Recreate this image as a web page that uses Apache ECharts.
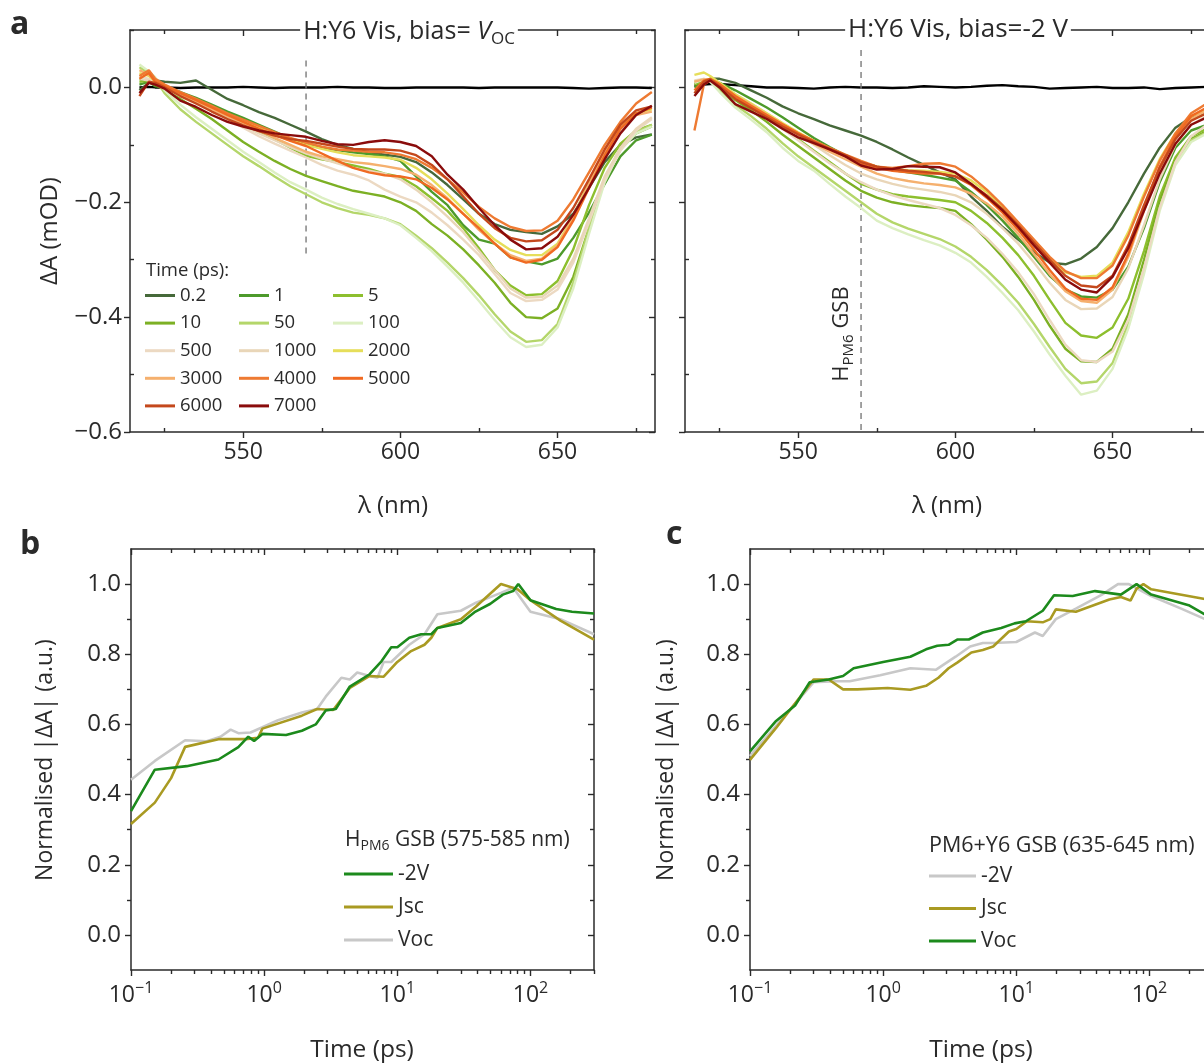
<!DOCTYPE html>
<html><head><meta charset="utf-8">
<script src="https://cdn.jsdelivr.net/npm/echarts@6/dist/echarts.min.js"></script>
<style>html,body{margin:0;padding:0;overflow:hidden;background:#fff}#main{width:1220px;height:1064px}</style>
</head><body><div id="main"></div>
<script>
// ---------------- DATA ----------------
const wavelengths = [517,520,522,525,530,535,540,545,550,555,560,565,570,575,580,585,590,595,600,605,610,615,620,625,630,635,640,645,650,655,660,665,670,675,680];
const timeLabels = ['0.2','1','5','10','50','100','500','1000','2000','3000','4000','5000','6000','7000'];
const timeColors = ['#46693a','#4d9a2b','#8dbf2e','#7cb024','#b4d66a','#dcefc2','#ecd9c2','#e9d6b8','#e6de5a','#f5b06e','#ee7a32','#f06a22','#c4481c','#8a0c0c'];

// Panel a: bias = Voc  (ΔA, mOD)
const vocRef   = [0.000,0.001,0.000,0.000,-0.001,0.000,0.000,0.000,0.001,0.000,-0.001,0.000,0.000,0.000,0.001,0.000,0.000,-0.001,-0.001,0.000,0.000,0.000,0.000,-0.001,0.000,0.000,0.000,0.000,0.000,-0.001,-0.002,-0.001,0.000,0.000,-0.001];
const vocT0p2  = [-0.005,0.008,0.012,0.010,0.008,0.012,-0.004,-0.020,-0.031,-0.043,-0.053,-0.065,-0.077,-0.090,-0.100,-0.107,-0.113,-0.117,-0.121,-0.130,-0.148,-0.170,-0.195,-0.220,-0.238,-0.248,-0.252,-0.255,-0.242,-0.220,-0.175,-0.130,-0.100,-0.087,-0.082];
const vocT1    = [0.005,0.010,0.002,0.000,-0.008,-0.018,-0.030,-0.042,-0.053,-0.065,-0.077,-0.089,-0.100,-0.105,-0.109,-0.113,-0.116,-0.120,-0.128,-0.155,-0.182,-0.205,-0.240,-0.265,-0.272,-0.296,-0.303,-0.308,-0.298,-0.262,-0.218,-0.168,-0.120,-0.092,-0.082];
const vocT5    = [0.010,0.012,0.005,0.000,-0.010,-0.022,-0.036,-0.050,-0.063,-0.077,-0.090,-0.105,-0.119,-0.125,-0.130,-0.136,-0.142,-0.150,-0.156,-0.172,-0.193,-0.215,-0.245,-0.280,-0.318,-0.345,-0.362,-0.360,-0.337,-0.282,-0.205,-0.140,-0.098,-0.075,-0.065];
const vocT10   = [0.015,0.010,0.005,-0.005,-0.020,-0.037,-0.055,-0.075,-0.095,-0.112,-0.128,-0.142,-0.154,-0.163,-0.172,-0.180,-0.185,-0.190,-0.200,-0.215,-0.238,-0.258,-0.282,-0.310,-0.340,-0.375,-0.400,-0.402,-0.385,-0.330,-0.245,-0.160,-0.108,-0.080,-0.068];
const vocT50   = [0.035,0.025,0.015,-0.010,-0.038,-0.060,-0.080,-0.100,-0.120,-0.137,-0.155,-0.172,-0.186,-0.200,-0.210,-0.218,-0.222,-0.228,-0.238,-0.258,-0.280,-0.305,-0.332,-0.362,-0.395,-0.425,-0.443,-0.440,-0.412,-0.340,-0.245,-0.160,-0.105,-0.078,-0.065];
const vocT100  = [0.040,0.028,0.018,-0.005,-0.030,-0.052,-0.072,-0.092,-0.112,-0.130,-0.148,-0.165,-0.178,-0.192,-0.203,-0.212,-0.220,-0.228,-0.240,-0.262,-0.285,-0.312,-0.340,-0.372,-0.405,-0.435,-0.452,-0.448,-0.418,-0.350,-0.255,-0.165,-0.108,-0.080,-0.068];
const vocT500  = [0.020,0.015,0.008,0.000,-0.012,-0.025,-0.040,-0.055,-0.070,-0.085,-0.098,-0.110,-0.122,-0.135,-0.145,-0.152,-0.162,-0.178,-0.190,-0.200,-0.218,-0.240,-0.265,-0.292,-0.325,-0.358,-0.372,-0.370,-0.352,-0.305,-0.235,-0.160,-0.110,-0.075,-0.055];
const vocT1000 = [0.015,0.012,0.006,-0.002,-0.012,-0.024,-0.038,-0.052,-0.066,-0.080,-0.092,-0.104,-0.115,-0.124,-0.132,-0.140,-0.145,-0.150,-0.160,-0.178,-0.200,-0.225,-0.252,-0.285,-0.318,-0.350,-0.366,-0.365,-0.345,-0.298,-0.228,-0.155,-0.105,-0.072,-0.052];
const vocT2000 = [0.025,0.020,0.010,0.002,-0.010,-0.022,-0.035,-0.048,-0.058,-0.070,-0.082,-0.092,-0.100,-0.107,-0.113,-0.118,-0.120,-0.122,-0.126,-0.140,-0.160,-0.185,-0.212,-0.240,-0.265,-0.283,-0.292,-0.292,-0.272,-0.225,-0.165,-0.110,-0.068,-0.045,-0.038];
const vocT3000 = [0.030,0.022,0.012,0.000,-0.012,-0.025,-0.038,-0.050,-0.062,-0.075,-0.088,-0.100,-0.112,-0.120,-0.125,-0.130,-0.133,-0.137,-0.142,-0.152,-0.170,-0.193,-0.220,-0.248,-0.272,-0.292,-0.302,-0.298,-0.275,-0.228,-0.168,-0.112,-0.070,-0.048,-0.042];
const vocT4000 = [0.020,0.030,0.015,0.005,-0.008,-0.020,-0.032,-0.045,-0.056,-0.067,-0.078,-0.088,-0.096,-0.103,-0.108,-0.110,-0.112,-0.113,-0.117,-0.125,-0.140,-0.160,-0.183,-0.208,-0.228,-0.243,-0.250,-0.249,-0.232,-0.195,-0.148,-0.100,-0.060,-0.028,-0.008];
const vocT5000 = [0.015,0.025,0.010,0.002,-0.010,-0.022,-0.035,-0.048,-0.060,-0.072,-0.083,-0.093,-0.102,-0.115,-0.128,-0.140,-0.148,-0.153,-0.155,-0.160,-0.175,-0.195,-0.220,-0.245,-0.272,-0.296,-0.305,-0.300,-0.278,-0.232,-0.175,-0.118,-0.072,-0.045,-0.035];
const vocT6000 = [-0.015,0.010,0.008,0.000,-0.015,-0.028,-0.042,-0.055,-0.066,-0.076,-0.084,-0.090,-0.093,-0.098,-0.103,-0.107,-0.108,-0.108,-0.110,-0.118,-0.135,-0.160,-0.190,-0.220,-0.245,-0.262,-0.268,-0.266,-0.248,-0.210,-0.160,-0.108,-0.065,-0.040,-0.033];
const vocT7000 = [-0.010,0.008,0.005,-0.002,-0.023,-0.034,-0.048,-0.060,-0.068,-0.075,-0.080,-0.083,-0.086,-0.093,-0.099,-0.100,-0.095,-0.092,-0.095,-0.102,-0.120,-0.152,-0.178,-0.210,-0.240,-0.265,-0.282,-0.280,-0.260,-0.222,-0.175,-0.125,-0.080,-0.048,-0.032];

// Panel a (right): bias = -2 V
const m2Ref   = [0.003,0.005,0.006,0.006,0.004,0.002,0.000,0.000,-0.001,-0.002,0.000,0.001,0.000,0.000,-0.001,0.000,0.002,0.001,0.000,0.001,0.003,0.004,0.002,0.001,-0.002,-0.001,0.000,0.001,-0.001,-0.001,0.000,-0.003,-0.001,0.000,0.001];
const m2T0p2  = [0.008,0.012,0.015,0.015,0.008,-0.005,-0.018,-0.033,-0.045,-0.055,-0.066,-0.075,-0.084,-0.095,-0.108,-0.122,-0.135,-0.148,-0.160,-0.190,-0.215,-0.243,-0.265,-0.287,-0.305,-0.308,-0.298,-0.278,-0.245,-0.200,-0.150,-0.105,-0.070,-0.052,-0.046];
const m2T1    = [0.000,0.010,0.012,0.008,-0.005,-0.020,-0.035,-0.052,-0.070,-0.088,-0.104,-0.118,-0.130,-0.138,-0.144,-0.148,-0.152,-0.157,-0.162,-0.182,-0.205,-0.232,-0.262,-0.295,-0.328,-0.352,-0.364,-0.366,-0.352,-0.312,-0.245,-0.165,-0.105,-0.075,-0.065];
const m2T5    = [0.005,0.012,0.012,0.004,-0.015,-0.032,-0.050,-0.070,-0.090,-0.110,-0.130,-0.150,-0.168,-0.178,-0.186,-0.190,-0.193,-0.196,-0.200,-0.215,-0.236,-0.262,-0.292,-0.328,-0.370,-0.410,-0.432,-0.436,-0.418,-0.368,-0.285,-0.190,-0.122,-0.085,-0.072];
const m2T10   = [0.008,0.012,0.012,0.000,-0.022,-0.040,-0.060,-0.082,-0.102,-0.122,-0.142,-0.162,-0.180,-0.192,-0.200,-0.205,-0.208,-0.210,-0.215,-0.238,-0.265,-0.295,-0.330,-0.370,-0.415,-0.455,-0.477,-0.478,-0.455,-0.395,-0.300,-0.198,-0.128,-0.090,-0.076];
const m2T50   = [0.010,0.014,0.012,-0.005,-0.030,-0.050,-0.072,-0.097,-0.120,-0.140,-0.160,-0.180,-0.200,-0.220,-0.235,-0.246,-0.255,-0.264,-0.277,-0.295,-0.318,-0.345,-0.375,-0.412,-0.452,-0.490,-0.515,-0.512,-0.480,-0.412,-0.318,-0.210,-0.132,-0.092,-0.078];
const m2T100  = [0.008,0.014,0.010,-0.008,-0.035,-0.056,-0.078,-0.105,-0.128,-0.145,-0.168,-0.190,-0.210,-0.232,-0.245,-0.256,-0.266,-0.275,-0.288,-0.305,-0.330,-0.358,-0.388,-0.425,-0.465,-0.502,-0.535,-0.528,-0.490,-0.420,-0.325,-0.215,-0.135,-0.095,-0.080];
const m2T500  = [0.012,0.015,0.012,0.002,-0.018,-0.035,-0.052,-0.072,-0.092,-0.112,-0.132,-0.150,-0.165,-0.178,-0.188,-0.196,-0.203,-0.210,-0.222,-0.240,-0.262,-0.290,-0.322,-0.360,-0.405,-0.448,-0.475,-0.478,-0.460,-0.405,-0.315,-0.210,-0.130,-0.085,-0.065];
const m2T1000 = [0.010,0.015,0.012,0.004,-0.012,-0.028,-0.045,-0.063,-0.082,-0.100,-0.118,-0.135,-0.150,-0.160,-0.168,-0.174,-0.178,-0.182,-0.188,-0.200,-0.220,-0.245,-0.272,-0.305,-0.340,-0.370,-0.386,-0.385,-0.365,-0.315,-0.240,-0.160,-0.100,-0.065,-0.050];
const m2T2000 = [0.022,0.026,0.020,0.008,-0.012,-0.028,-0.045,-0.062,-0.078,-0.093,-0.106,-0.118,-0.130,-0.138,-0.142,-0.144,-0.145,-0.147,-0.150,-0.162,-0.182,-0.208,-0.238,-0.270,-0.300,-0.322,-0.330,-0.328,-0.305,-0.252,-0.185,-0.125,-0.080,-0.050,-0.038];
const m2T3000 = [0.010,0.014,0.014,0.005,-0.015,-0.030,-0.047,-0.064,-0.082,-0.098,-0.112,-0.125,-0.138,-0.150,-0.158,-0.163,-0.167,-0.170,-0.174,-0.185,-0.202,-0.225,-0.255,-0.290,-0.325,-0.355,-0.372,-0.375,-0.352,-0.295,-0.215,-0.142,-0.088,-0.055,-0.040];
const m2T4000 = [-0.075,0.005,0.012,0.004,-0.018,-0.034,-0.050,-0.065,-0.080,-0.093,-0.105,-0.117,-0.128,-0.138,-0.140,-0.137,-0.133,-0.132,-0.138,-0.155,-0.178,-0.205,-0.235,-0.265,-0.295,-0.320,-0.332,-0.332,-0.310,-0.258,-0.190,-0.128,-0.080,-0.045,-0.028];
const m2T5000 = [-0.005,0.012,0.015,0.006,-0.015,-0.032,-0.048,-0.064,-0.080,-0.094,-0.108,-0.120,-0.132,-0.140,-0.145,-0.148,-0.150,-0.150,-0.155,-0.170,-0.192,-0.218,-0.248,-0.282,-0.318,-0.350,-0.368,-0.370,-0.348,-0.290,-0.210,-0.138,-0.085,-0.050,-0.035];
const m2T6000 = [-0.010,0.010,0.014,0.002,-0.020,-0.036,-0.052,-0.068,-0.082,-0.095,-0.107,-0.118,-0.130,-0.138,-0.142,-0.145,-0.147,-0.150,-0.155,-0.168,-0.188,-0.212,-0.240,-0.270,-0.300,-0.328,-0.345,-0.348,-0.328,-0.275,-0.205,-0.140,-0.090,-0.058,-0.045];
const m2T7000 = [-0.015,0.005,0.012,0.000,-0.029,-0.042,-0.055,-0.072,-0.087,-0.097,-0.108,-0.120,-0.136,-0.143,-0.142,-0.137,-0.138,-0.139,-0.148,-0.168,-0.190,-0.214,-0.243,-0.275,-0.305,-0.335,-0.352,-0.357,-0.330,-0.280,-0.215,-0.150,-0.098,-0.065,-0.052];

// GSB marker (nm) and its drawn extent (mOD)
const gsbNm = 570;
const gsbSpanVoc = [0.047, -0.293];
const gsbSpanM2 = [0.065, -0.6];

// Panel b: H_PM6 GSB (575-585 nm) kinetics
const bM2V_t = [0.1,0.151,0.262,0.454,0.64,0.76,0.84,0.97,1.46,1.92,2.44,2.9,3.45,4.4,6.2,7.6,9.0,10,12.3,15.1,18,20,30,38,50,62,74,81,100,156,205,300];
const bM2V_y = [0.353,0.471,0.481,0.50,0.535,0.565,0.553,0.573,0.570,0.582,0.60,0.64,0.644,0.708,0.743,0.78,0.82,0.82,0.847,0.857,0.857,0.875,0.889,0.92,0.944,0.97,0.98,1.0,0.954,0.929,0.921,0.916];
const bJsc_t = [0.1,0.151,0.2,0.255,0.454,0.73,0.9,0.97,1.92,2.5,3.3,4.4,6.2,7.9,10,12.7,16,18,20,30,39,60,80,100,168,300];
const bJsc_y = [0.316,0.377,0.447,0.536,0.558,0.558,0.562,0.588,0.625,0.644,0.641,0.704,0.738,0.736,0.778,0.809,0.827,0.847,0.875,0.90,0.936,1.0,0.985,0.954,0.896,0.842];
const bVoc_t = [0.1,0.151,0.255,0.37,0.47,0.56,0.64,0.79,0.97,1.27,1.92,2.5,2.9,3.8,4.4,5.0,6.2,7.1,7.9,9,12.3,16,20,30,39,60,74,100,168,300];
const bVoc_y = [0.442,0.496,0.555,0.552,0.565,0.585,0.575,0.577,0.592,0.612,0.634,0.644,0.679,0.733,0.728,0.748,0.738,0.733,0.778,0.778,0.827,0.857,0.914,0.924,0.947,0.975,0.99,0.921,0.90,0.857];

// Panel c: PM6+Y6 GSB (635-645 nm) kinetics
const cM2V_t = [0.1,0.3,0.44,0.56,0.95,1.6,2.5,3.5,4.5,5.6,6.7,10,13.8,15.8,19.8,28,44,58,70,103,173,300];
const cM2V_y = [0.51,0.72,0.723,0.723,0.74,0.76,0.756,0.793,0.822,0.832,0.832,0.835,0.862,0.852,0.90,0.93,0.97,1.0,1.0,0.966,0.93,0.89];
const cJsc_t = [0.1,0.157,0.3,0.39,0.5,0.64,1.08,1.6,2.1,2.6,3.1,3.6,4.6,5.6,6.7,8.8,10,12,15.8,18,19.8,28,39,50,61,72,80,90,103,300];
const cJsc_y = [0.499,0.59,0.728,0.728,0.70,0.70,0.704,0.699,0.71,0.733,0.76,0.776,0.805,0.812,0.822,0.865,0.872,0.894,0.891,0.90,0.928,0.921,0.941,0.956,0.963,0.953,0.987,1.0,0.985,0.953];
const cVoc_t = [0.1,0.157,0.218,0.28,0.39,0.5,0.6,1.0,1.6,2.1,2.55,3.1,3.6,4.4,5.6,7.7,9.7,11.8,15.8,19.2,26.5,39,61,80,103,197,300];
const cVoc_y = [0.523,0.61,0.654,0.72,0.728,0.738,0.76,0.778,0.793,0.814,0.824,0.827,0.842,0.842,0.862,0.875,0.888,0.894,0.924,0.968,0.966,0.98,0.97,1.0,0.97,0.94,0.90];

// Tick values
const nmMajor = [550,600,650], nmMinor = [525,575,625,675];
const dAMajor = [-0.6,-0.4,-0.2,0.0], dAMinor = [-0.5,-0.3,-0.1,0.1];
const tMajor = [0.1,1,10,100];
const tMinor = [0.2,0.3,0.4,0.5,0.6,0.7,0.8,0.9,2,3,4,5,6,7,8,9,20,30,40,50,60,70,80,90,200,300];
const nMajor = [0.0,0.2,0.4,0.6,0.8,1.0], nMinor = [0.1,0.3,0.5,0.7,0.9];

// ---------------- STYLE / BUILD ----------------
const FONT = "'Open Sans','Noto Sans',sans-serif";
const INK = '#2a2a2a';
const GREEN = '#1c8a1c', OLIVE = '#a99a22', GREY = '#c8c8c8';

const grids = [
  {left:130, top:30, width:525, height:402},
  {left:685, top:30, width:525, height:402},
  {left:131, top:549, width:463, height:421},
  {left:750, top:549, width:463, height:421}
];
const xAxis = [], yAxis = [];
function addAxes(list, dim, gi, base, major, minor, opt) {
  const p1 = dim === 'x' ? 'bottom' : 'left', p2 = dim === 'x' ? 'top' : 'right';
  const common = Object.assign({gridIndex: gi, splitLine:{show:false}, minorTick:{show:false}, minorSplitLine:{show:false}}, base);
  const lineSt = {color: INK, width: 1.5};
  const tickSt = {color: INK, width: 1.4};
  const idx = list.length;
  list.push(Object.assign({}, common, {
    position: p1,
    axisLine: {show: true, onZero: false, lineStyle: lineSt},
    axisTick: {show: true, inside: false, length: 6, customValues: major, lineStyle: tickSt},
    axisLabel: opt.labels ? {show: true, customValues: major, formatter: opt.fmt, rich: opt.rich, margin: opt.margin,
      fontSize: opt.size || 23, color: INK, fontFamily: FONT} : {show: false}
  }));
  list.push(Object.assign({}, common, {
    position: p1, axisLine: {show: false, onZero: false},
    axisTick: {show: true, inside: !opt.minorOut, length: 4, customValues: minor, lineStyle: tickSt},
    axisLabel: {show: false}
  }));
  list.push(Object.assign({}, common, {
    position: p2, axisLine: {show: true, onZero: false, lineStyle: lineSt},
    axisTick: {show: true, inside: true, length: 6, customValues: major, lineStyle: tickSt},
    axisLabel: {show: false}
  }));
  list.push(Object.assign({}, common, {
    position: p2, axisLine: {show: false, onZero: false},
    axisTick: {show: true, inside: true, length: 4, customValues: minor, lineStyle: tickSt},
    axisLabel: {show: false}
  }));
  return idx;
}
const fmtDA = v => (v < -1e-9 ? '\u2212' : '') + Math.abs(v).toFixed(1);
const fmtN = v => v.toFixed(1);
const fmtPow = v => { const e = Math.round(Math.log10(v)); return '{b|10}{s|' + (e < 0 ? '\u2212' + (-e) : e) + '}'; };
const powRich = {b: {fontSize: 23, color: INK, fontFamily: FONT, lineHeight: 30}, s: {fontSize: 16, color: INK, fontFamily: FONT, lineHeight: 14, verticalAlign: 'top'}};

const nmBase = {type: 'value', min: 514, max: 681};
const dABase = {type: 'value', min: -0.6, max: 0.1};
const tBase = {type: 'log', logBase: 10, min: 0.1, max: 300};
const nBase = {type: 'value', min: -0.1, max: 1.1};

const ax = [];
ax.push([addAxes(xAxis,'x',0,nmBase,nmMajor,nmMinor,{labels:true,margin:9,minorOut:false}),
         addAxes(yAxis,'y',0,dABase,dAMajor,dAMinor,{labels:true,fmt:fmtDA,margin:8,minorOut:false,size:24})]);
ax.push([addAxes(xAxis,'x',1,nmBase,nmMajor,nmMinor,{labels:true,margin:9,minorOut:false}),
         addAxes(yAxis,'y',1,dABase,dAMajor,dAMinor,{labels:false,minorOut:false})]);
ax.push([addAxes(xAxis,'x',2,tBase,tMajor,tMinor,{labels:true,fmt:fmtPow,rich:powRich,margin:10,minorOut:true}),
         addAxes(yAxis,'y',2,nBase,nMajor,nMinor,{labels:true,fmt:fmtN,margin:10,minorOut:true,size:24})]);
ax.push([addAxes(xAxis,'x',3,tBase,tMajor,tMinor,{labels:true,fmt:fmtPow,rich:powRich,margin:10,minorOut:true}),
         addAxes(yAxis,'y',3,nBase,nMajor,nMinor,{labels:true,fmt:fmtN,margin:10,minorOut:true,size:24})]);

const series = [];
function lineSeries(name, pts, color, panel, width, extra) {
  series.push(Object.assign({type:'line', name, xAxisIndex: ax[panel][0], yAxisIndex: ax[panel][1], data: pts,
    showSymbol:false, symbol:'none', silent:true, animation:false, emphasis:{disabled:true},
    lineStyle:{color, width}, itemStyle:{color}}, extra || {}));
}
const spec = arr => wavelengths.map((w, i) => [w, arr[i]]);
const kin = (t, y) => t.map((v, i) => [v, y[i]]);

const vocSets = [vocT0p2,vocT1,vocT5,vocT10,vocT50,vocT100,vocT500,vocT1000,vocT2000,vocT3000,vocT4000,vocT5000,vocT6000,vocT7000];
const m2Sets = [m2T0p2,m2T1,m2T5,m2T10,m2T50,m2T100,m2T500,m2T1000,m2T2000,m2T3000,m2T4000,m2T5000,m2T6000,m2T7000];

lineSeries('ref', spec(vocRef), '#000', 0, 2.4);
lineSeries('ref', spec(m2Ref), '#000', 1, 2.4);
lineSeries('gsb', [[gsbNm, gsbSpanVoc[0]], [gsbNm, gsbSpanVoc[1]]], '#7a7a7a', 0, 1.4, {lineStyle:{color:'#7a7a7a', width:1.4, type:[6,5]}});
lineSeries('gsb', [[gsbNm, gsbSpanM2[0]], [gsbNm, gsbSpanM2[1]]], '#7a7a7a', 1, 1.4, {lineStyle:{color:'#7a7a7a', width:1.4, type:[6,5]}});
timeLabels.forEach((n, i) => {
  lineSeries(n, spec(vocSets[i]), timeColors[i], 0, 2.4);
  lineSeries(n, spec(m2Sets[i]), timeColors[i], 1, 2.4);
});
lineSeries('Voc', kin(bVoc_t, bVoc_y), GREY, 2, 2.6);
lineSeries('Jsc', kin(bJsc_t, bJsc_y), OLIVE, 2, 2.6);
lineSeries('-2V', kin(bM2V_t, bM2V_y), GREEN, 2, 2.6);
lineSeries('-2V', kin(cM2V_t, cM2V_y), GREY, 3, 2.6);
lineSeries('Jsc', kin(cJsc_t, cJsc_y), OLIVE, 3, 2.6);
lineSeries('Voc', kin(cVoc_t, cVoc_y), GREEN, 3, 2.6);

const legendCols = [['0.2','10','500','3000','6000'],['1','50','1000','4000','7000'],['5','100','2000','5000']];
const legend = legendCols.map((names, c) => ({
  orient:'vertical', left: 145 + 94 * c, top: 285, padding: 0, itemWidth: 30, itemHeight: 3, itemGap: 6.6,
  icon: 'rect', selectedMode: false, data: names,
  textStyle: {fontSize: 18.5, color: INK, fontFamily: FONT, lineHeight: 21}
}));
legend.push({orient:'vertical', left: 344, top: 863, padding: 0, itemWidth: 49, itemHeight: 3, itemGap: 11, icon:'rect', selectedMode:false,
  data: [{name:'-2V', itemStyle:{color:GREEN}}, {name:'Jsc', itemStyle:{color:OLIVE}}, {name:'Voc', itemStyle:{color:GREY}}],
  textStyle: {fontSize: 21, color: INK, fontFamily: FONT, lineHeight: 22}});
legend.push({orient:'vertical', left: 929, top: 865, padding: 0, itemWidth: 47, itemHeight: 3, itemGap: 10.5, icon:'rect', selectedMode:false,
  data: [{name:'-2V', itemStyle:{color:GREY}}, {name:'Jsc', itemStyle:{color:OLIVE}}, {name:'Voc', itemStyle:{color:GREEN}}],
  textStyle: {fontSize: 21, color: INK, fontFamily: FONT, lineHeight: 22}});

function txt(text, x, y, size, o) {
  o = o || {};
  return {type:'text', x, y, rotation: o.rot || 0, z: 100, silent: true,
    style: Object.assign({text, fontSize: size, fontFamily: FONT, fill: INK, align: o.align || 'center', verticalAlign: 'middle',
      fontWeight: o.bold ? 'bold' : 'normal'}, o.style || {})};
}
const subRich = (size) => ({
  n: {fontSize: size, lineHeight: size + 6, fill: INK, fontFamily: FONT},
  i: {fontSize: size, lineHeight: size + 6, fill: INK, fontFamily: FONT, fontStyle: 'italic'},
  s: {fontSize: Math.round(size * 0.68), lineHeight: 10, verticalAlign: 'bottom', fill: INK, fontFamily: FONT}
});
const graphic = [
  txt('a', 10, 25, 32, {bold: true, align: 'left'}),
  txt('b', 20, 545, 32, {bold: true, align: 'left'}),
  txt('c', 666, 535, 32, {bold: true, align: 'left'}),
  txt('{n|H:Y6 Vis, bias= }{i|V}{s|OC}', 409, 32, 25, {style: {rich: subRich(25), backgroundColor: '#fff', padding: [2, 3]}}),
  txt('H:Y6 Vis, bias=-2 V', 958, 30, 26, {style: {backgroundColor: '#fff', padding: [2, 3]}}),
  txt('{n|H}{s|PM6}{n| GSB}', 842, 334, 22, {rot: Math.PI / 2, style: {rich: subRich(22)}}),
  txt('Time (ps):', 146, 271, 18.5, {align: 'left'}),
  txt('\u0394A (mOD)', 50, 231, 24, {rot: Math.PI / 2}),
  txt('\u03bb (nm)', 393, 506, 24),
  txt('\u03bb (nm)', 947, 506, 24),
  txt('Normalised |\u0394A| (a.u.)', 45, 760, 23, {rot: Math.PI / 2}),
  txt('Normalised |\u0394A| (a.u.)', 666, 760, 23, {rot: Math.PI / 2}),
  txt('Time (ps)', 362, 1050, 24.5),
  txt('Time (ps)', 981, 1050, 24.5),
  txt('{n|H}{s|PM6}{n| GSB (575-585 nm)}', 345, 840, 21, {align: 'left', style: {rich: subRich(21)}}),
  txt('PM6+Y6 GSB (635-645 nm)', 929, 846, 21.5, {align: 'left'})
];

const chart = echarts.init(document.getElementById('main'), null, {renderer: 'canvas'});
chart.setOption({animation: false, textStyle: {fontFamily: FONT}, grid: grids, xAxis, yAxis, series, legend, graphic, tooltip: {show: false}});
</script></body></html>
